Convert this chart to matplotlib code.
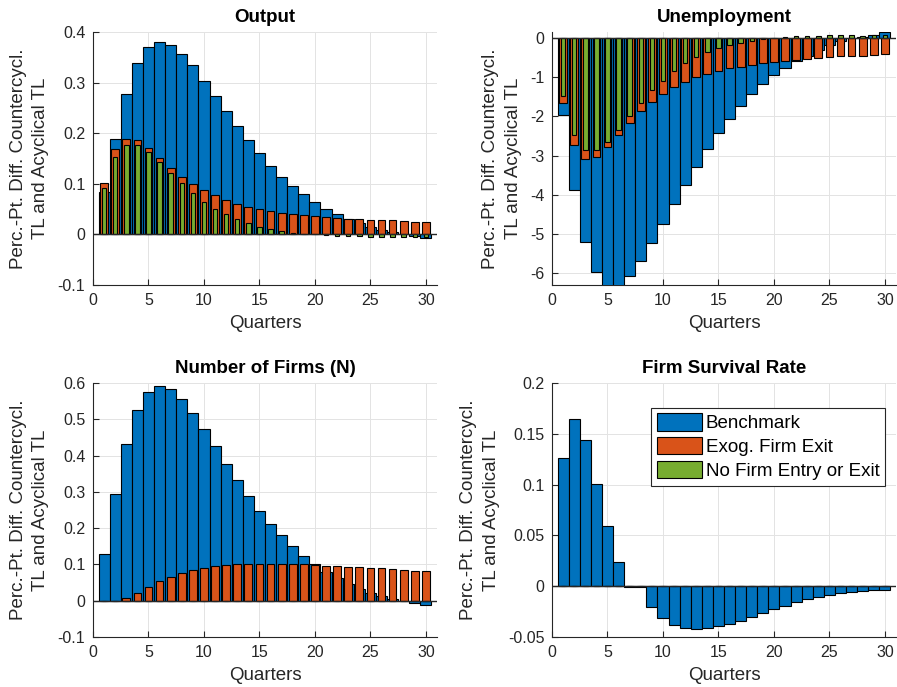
import numpy as np
import matplotlib
matplotlib.use("Agg")
import matplotlib.pyplot as plt
from matplotlib.patches import Patch
from matplotlib.ticker import FuncFormatter


# ------------------------------------------------------------------ #
#  Data                               #
# ------------------------------------------------------------------ #

quarters = np.arange(1, 31)

series_labels = ["Benchmark", "Exog. Firm Exit", "No Firm Entry or Exit"]

output_bench = [0.083, 0.189, 0.278, 0.338, 0.371, 0.381, 0.375, 0.357, 0.334, 0.304,
                0.274, 0.243, 0.214, 0.187, 0.160, 0.136, 0.114, 0.096, 0.079, 0.064,
                0.051, 0.040, 0.030, 0.022, 0.015, 0.009, 0.004, 0.000, -0.004, -0.008]
output_exog = [0.102, 0.168, 0.189, 0.186, 0.171, 0.151, 0.132, 0.114, 0.099, 0.087,
               0.077, 0.068, 0.061, 0.055, 0.051, 0.047, 0.043, 0.041, 0.039, 0.037,
               0.035, 0.033, 0.031, 0.030, 0.029, 0.028, 0.028, 0.026, 0.025, 0.024]
output_noentry = [0.091, 0.153, 0.177, 0.176, 0.163, 0.143, 0.121, 0.101, 0.082, 0.065,
                  0.051, 0.040, 0.030, 0.022, 0.015, 0.010, 0.006, 0.003, 0.001, 0.000,
                  -0.002, -0.003, -0.004, -0.004, -0.005, -0.005, -0.005, -0.005, -0.005, -0.006]

unemp_bench = [-1.975, -3.87, -5.21, -5.98, -6.45, -6.40, -6.08, -5.68, -5.24, -4.75,
               -4.24, -3.75, -3.28, -2.84, -2.43, -2.07, -1.73, -1.43, -1.18, -0.95,
               -0.76, -0.58, -0.45, -0.30, -0.19, -0.09, -0.01, 0.03, 0.07, 0.14]
unemp_exog = [-1.67, -2.73, -3.08, -3.03, -2.78, -2.47, -2.16, -1.86, -1.63, -1.43,
              -1.26, -1.13, -1.00, -0.91, -0.84, -0.77, -0.73, -0.68, -0.63, -0.61,
              -0.59, -0.57, -0.53, -0.51, -0.49, -0.47, -0.46, -0.45, -0.44, -0.42]
unemp_noentry = [-1.48, -2.48, -2.87, -2.87, -2.65, -2.34, -1.99, -1.65, -1.34, -1.09,
                 -0.85, -0.65, -0.50, -0.36, -0.26, -0.19, -0.13, -0.07, -0.03, 0.00,
                 0.02, 0.04, 0.05, 0.06, 0.07, 0.07, 0.07, 0.06, 0.07, 0.07]

firms_bench = [0.129, 0.293, 0.431, 0.525, 0.575, 0.592, 0.583, 0.556, 0.517, 0.472,
               0.426, 0.378, 0.333, 0.289, 0.248, 0.212, 0.180, 0.150, 0.124, 0.102,
               0.080, 0.063, 0.046, 0.032, 0.022, 0.013, 0.006, 0.000, -0.007, -0.012]
firms_exog = [0.000, -0.001, 0.007, 0.021, 0.038, 0.053, 0.066, 0.077, 0.085, 0.090,
              0.095, 0.099, 0.101, 0.102, 0.102, 0.102, 0.102, 0.101, 0.100, 0.099,
              0.097, 0.095, 0.093, 0.092, 0.090, 0.089, 0.087, 0.085, 0.083, 0.081]
firms_noentry = [0, 0, 0, 0, 0, 0, 0, 0, 0, 0, 0, 0, 0, 0, 0,
                 0, 0, 0, 0, 0, 0, 0, 0, 0, 0, 0, 0, 0, 0, 0]

survival_bench = [0.126, 0.1645, 0.144, 0.101, 0.059, 0.024, -0.001, -0.001, -0.020, -0.031,
                  -0.038, -0.041, -0.042, -0.041, -0.039, -0.037, -0.034, -0.030, -0.026, -0.022,
                  -0.019, -0.016, -0.013, -0.011, -0.009, -0.007, -0.0056, -0.0046, -0.0042, -0.0040]
survival_exog = [0, 0, 0, 0, 0, 0, 0, 0, 0, 0, 0, 0, 0, 0, 0,
                 0, 0, 0, 0, 0, 0, 0, 0, 0, 0, 0, 0, 0, 0, 0]
survival_noentry = [0, 0, 0, 0, 0, 0, 0, 0, 0, 0, 0, 0, 0, 0, 0,
                    0, 0, 0, 0, 0, 0, 0, 0, 0, 0, 0, 0, 0, 0, 0]


# ------------------------------------------------------------------ #
#  Style                                                               #
# ------------------------------------------------------------------ #

COLORS = ["#0072BD", "#D95319", "#77AC30"]
WIDTHS = [1.0, 0.7, 0.4]
AX_COLOR = "#262626"
YLABEL = "Perc.-Pt. Diff. Countercycl.\nTL and Acyclical TL"

plt.rcParams["font.family"] = ["Liberation Sans", "DejaVu Sans"]
plt.rcParams["axes.unicode_minus"] = False

W, H = 897, 687


def _axes_rect(left, top, right, bottom):
    return [left / W, 1 - bottom / H, (right - left) / W, (bottom - top) / H]


def draw_panel(fig, rect, title, series, ylim, yticks, legend=False):
    ax = fig.add_axes(rect)
    for vals, color, width in zip(series, COLORS, WIDTHS):
        ax.bar(quarters, vals, width=width, color=color, edgecolor="black",
               linewidth=0.8, zorder=3)
    ax.axhline(0, color=AX_COLOR, lw=1.0, zorder=4)

    ax.set_xlim(0, 31)
    ax.set_ylim(*ylim)
    ax.set_xticks([0, 5, 10, 15, 20, 25, 30])
    ax.set_yticks(yticks)
    ax.yaxis.set_major_formatter(FuncFormatter(lambda v, _: f"{v:g}"))

    ax.grid(True, color="#e3e3e3", lw=0.7, zorder=0)
    for side in ("top", "right"):
        ax.spines[side].set_visible(False)
    for side in ("left", "bottom"):
        ax.spines[side].set_color(AX_COLOR)
        ax.spines[side].set_linewidth(0.8)
    ax.tick_params(direction="in", length=4, width=0.8, colors=AX_COLOR,
                   labelsize=11.5, labelcolor=AX_COLOR, pad=5.5)

    ax.set_title(title, fontsize=13.5, fontweight="bold", pad=7)
    ax.set_xlabel("Quarters", fontsize=13.5, color=AX_COLOR, labelpad=5)
    ax.set_ylabel(YLABEL, fontsize=13.5, color=AX_COLOR, linespacing=1.4,
                  labelpad=6)

    if legend:
        handles = [Patch(facecolor=c, edgecolor="black", lw=0.8) for c in COLORS]
        leg = ax.legend(handles, series_labels, loc="upper right",
                        bbox_to_anchor=(0.968, 0.903), borderaxespad=0,
                        fontsize=13.5, fancybox=False, framealpha=1,
                        edgecolor=AX_COLOR, handlelength=2.4, handleheight=1.05,
                        handletextpad=0.2, labelspacing=0.25, borderpad=0.3)
        leg.get_frame().set_linewidth(0.8)
    return ax


# ------------------------------------------------------------------ #
#  Figure                                                              #
# ------------------------------------------------------------------ #

fig = plt.figure(figsize=(W / 100, H / 100), dpi=100)

draw_panel(fig, _axes_rect(93, 32, 437, 285), "Output",
           [output_bench, output_exog, output_noentry],
           (-0.1, 0.4), [-0.1, 0, 0.1, 0.2, 0.3, 0.4])
draw_panel(fig, _axes_rect(552, 32, 896, 285), "Unemployment",
           [unemp_bench, unemp_exog, unemp_noentry],
           (-6.3, 0.15), [-6, -5, -4, -3, -2, -1, 0])
draw_panel(fig, _axes_rect(93, 383, 437, 637), "Number of Firms (N)",
           [firms_bench, firms_exog, firms_noentry],
           (-0.1, 0.6), [-0.1, 0, 0.1, 0.2, 0.3, 0.4, 0.5, 0.6])
draw_panel(fig, _axes_rect(552, 383, 896, 637), "Firm Survival Rate",
           [survival_bench, survival_exog, survival_noentry],
           (-0.05, 0.2), [-0.05, 0, 0.05, 0.1, 0.15, 0.2], legend=True)

fig.savefig("out.png", dpi=100)
